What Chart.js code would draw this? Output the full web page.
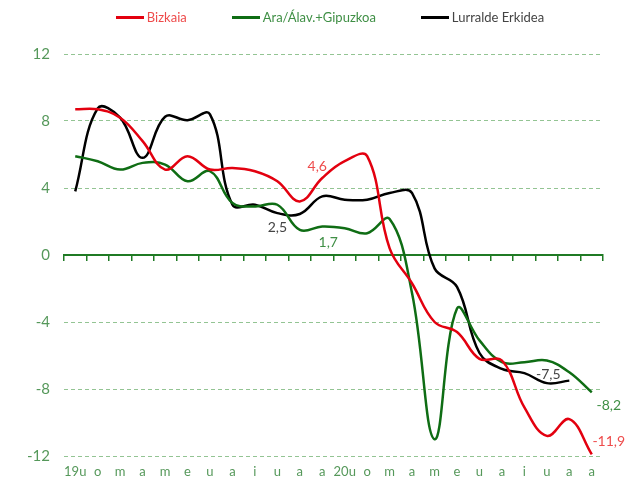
<!DOCTYPE html>
<html>
<head>
<meta charset="utf-8">
<script src="https://cdn.jsdelivr.net/npm/chart.js@4.4.1/dist/chart.umd.min.js"></script>
<style>
  html, body { margin: 0; padding: 0; background: #fff; }
  #wrap { position: relative; width: 632px; height: 481px; }
  #legend {
    position: absolute; top: 10px; left: 28px; right: 0;
    display: flex; justify-content: center; gap: 45px;
    font: 13px Lato, sans-serif; line-height: 15px;
  }
  #legend .item { display: flex; align-items: center; white-space: nowrap; }
  #legend .swatch { width: 28px; height: 3px; margin-right: 3px; }
</style>
</head>
<body>
<div id="wrap">
  <canvas id="chart" width="632" height="481"></canvas>
  <div id="legend"></div>
</div>
<script>
// ---------- DATA ----------
const MONTHS = ["19u", "o", "m", "a", "m", "e", "u", "a", "i", "u", "a", "a",
                "20u", "o", "m", "a", "m", "e", "u", "a", "i", "u", "a", "a"];

const BIZKAIA = [8.7, 8.7, 8.2, 6.8, 5.1, 5.9, 5.1, 5.2, 5.0, 4.4, 3.2, 4.6,
                 5.6, 5.9, 0.4, -1.7, -4.0, -4.6, -6.2, -6.3, -9.1, -10.8, -9.8, -11.9];

const ARABA_GIPUZKOA = [5.9, 5.6, 5.1, 5.5, 5.4, 4.4, 5.0, 3.1, 2.9, 3.0, 1.5, 1.7,
                        1.6, 1.3, 2.15, -2.3, -11.0, -3.2, -5.1, -6.4, -6.4, -6.3, -7.0, -8.2];

const LURRALDE_ERKIDEA = [3.8, 8.75, 8.2, 5.8, 8.25, 8.05, 8.4, 3.0, 3.0, 2.5, 2.45, 3.5,
                          3.3, 3.3, 3.7, 3.7, -0.8, -1.9, -5.85, -6.8, -7.05, -7.65, -7.5];

const Y_TICKS = [-12, -8, -4, 0, 4, 8, 12];

// value labels: which series / which point / text shown
const VALUE_LABELS = [
  { series: 0, index: 11, text: "4,6",   dx: -5,  dy: -11 },
  { series: 0, index: 23, text: "-11,9", dx: 17,  dy: -13 },
  { series: 1, index: 11, text: "1,7",   dx: 6,   dy: 16 },
  { series: 1, index: 23, text: "-8,2",  dx: 17,  dy: 13 },
  { series: 2, index: 9,  text: "2,5",   dx: 0,   dy: 14 },
  { series: 2, index: 22, text: "-7,5",  dx: -21, dy: -6 },
];

// ---------- COLOURS ----------
const RED = "#e3000f";
const GREEN = "#0f6d14";
const BLACK = "#000000";
const AXIS_GREEN = "#1f7a24";
const GRID_GREEN = "#93c493";
const TICK_TEXT = "#55985a";

const LABEL_COLORS = ["#ee4b4b", "#3f8f45", "#444444"];

// ---------- VALUE LABEL PLUGIN ----------
const valueLabels = {
  id: "valueLabels",
  afterDatasetsDraw(chart) {
    const ctx = chart.ctx;
    ctx.save();
    ctx.font = "14px Lato, sans-serif";
    ctx.textAlign = "center";
    ctx.textBaseline = "middle";
    VALUE_LABELS.forEach((lbl) => {
      const pt = chart.getDatasetMeta(lbl.series).data[lbl.index];
      if (!pt) return;
      ctx.fillStyle = LABEL_COLORS[lbl.series];
      ctx.fillText(lbl.text, pt.x + lbl.dx, pt.y + lbl.dy);
    });
    ctx.restore();
  }
};

function makeSeries(label, data, color) {
  return {
    label,
    data,
    borderColor: color,
    backgroundColor: color,
    borderWidth: 2.5,
    pointRadius: 0,
    tension: 0.4,
    fill: false,
  };
}

const chart = new Chart(document.getElementById("chart"), {
  type: "line",
  data: {
    labels: MONTHS,
    datasets: [
      makeSeries("Bizkaia", BIZKAIA, RED),
      makeSeries("Ara/Álav.+Gipuzkoa", ARABA_GIPUZKOA, GREEN),
      makeSeries("Lurralde Erkidea", LURRALDE_ERKIDEA, BLACK),
    ],
  },
  options: {
    responsive: false,
    animation: false,
    layout: { padding: { top: 54, left: 28, right: 0, bottom: 0 } },
    plugins: {
      legend: { display: false },
      tooltip: { enabled: false },
    },
    scales: {
      // axis line with tick marks sitting at zero
      x: {
        type: "category",
        position: { y: 0 },
        offset: true,
        ticks: { display: false },
        grid: {
          display: true,
          drawOnChartArea: false,
          offset: true,
          tickLength: 5,
          color: AXIS_GREEN,
          lineWidth: 1.5,
        },
        border: { display: true, color: AXIS_GREEN, width: 2 },
      },
      // month letters along the bottom
      months: {
        type: "category",
        position: "bottom",
        labels: MONTHS,
        offset: true,
        grid: { display: false, drawTicks: false },
        border: { display: false },
        ticks: {
          autoSkip: false,
          maxRotation: 0,
          color: TICK_TEXT,
          font: { family: "Lato", size: 13 },
          padding: 8,
        },
        afterFit: (s) => { s.height = 25; },
      },
      y: {
        min: -12,
        max: 12,
        afterBuildTicks: (s) => { s.ticks = Y_TICKS.map((v) => ({ value: v })); },
        ticks: {
          color: TICK_TEXT,
          font: { family: "Lato", size: 15 },
          padding: 14,
        },
        grid: {
          drawTicks: false,
          lineWidth: 1,
          color: (c) => (c.tick && c.tick.value === 0 ? "rgba(0,0,0,0)" : GRID_GREEN),
        },
        border: { display: false, dash: [4, 3] },
        afterFit: (s) => { s.width = 36; },
      },
      spacer: {
        type: "linear",
        position: "right",
        grid: { display: false },
        ticks: { display: false },
        border: { display: false },
        afterFit: (s) => { s.width = 29; },
      },
    },
  },
  plugins: [valueLabels],
});

// ---------- HTML LEGEND ----------
const legendEl = document.getElementById("legend");
chart.data.datasets.forEach((ds, i) => {
  const item = document.createElement("div");
  item.className = "item";
  const sw = document.createElement("span");
  sw.className = "swatch";
  sw.style.background = ds.borderColor;
  const txt = document.createElement("span");
  txt.textContent = ds.label;
  txt.style.color = LABEL_COLORS[i];
  item.appendChild(sw);
  item.appendChild(txt);
  legendEl.appendChild(item);
});
</script>
</body>
</html>
